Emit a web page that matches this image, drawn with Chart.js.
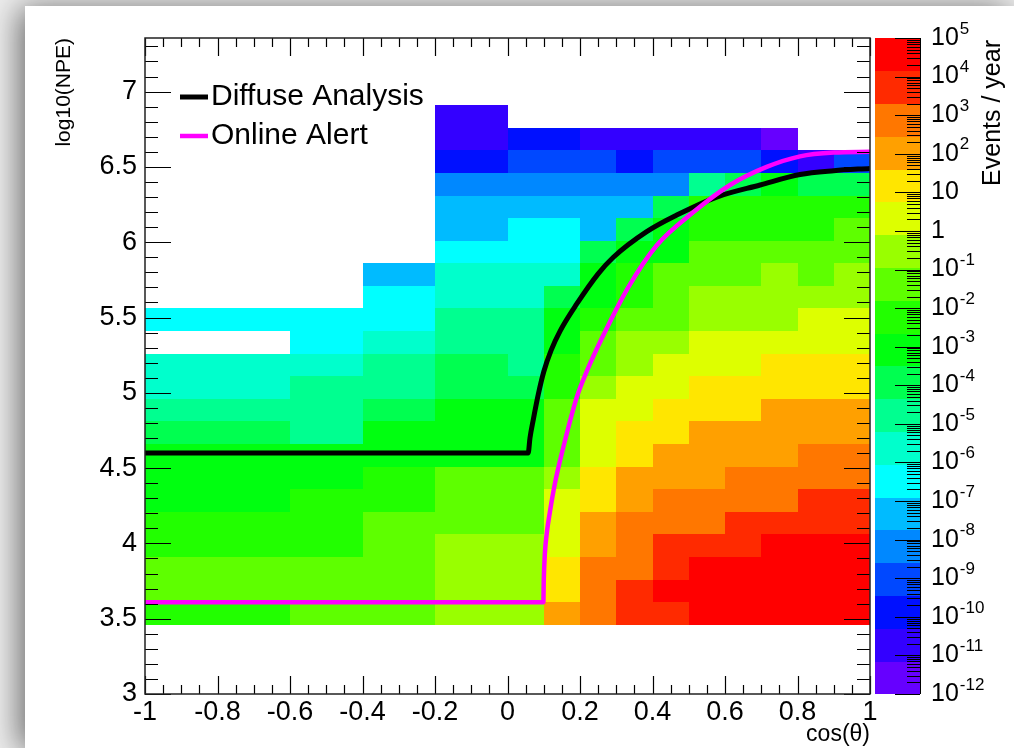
<!DOCTYPE html>
<html>
<head>
<meta charset="utf-8">
<title>log10(NPE) vs cos(θ)</title>
<script src="https://cdn.jsdelivr.net/npm/chart.js@4.4.1/dist/chart.umd.min.js"></script>
<style>
  html, body { margin: 0; padding: 0; }
  body { position: relative; width: 1014px; height: 748px; overflow: hidden; background: #eeeeee; }
  #panel { position: absolute; left: 25px; top: 6px; width: 989px; height: 742px; background: #fff;
           box-shadow: -6px 2px 30px rgba(0, 0, 0, 0.55); }
  #wrap { position: absolute; left: 0; top: 0; width: 1014px; height: 748px; }
</style>
</head>
<body>
<div id="panel"></div>
<div id="wrap"><canvas id="chart" width="1014" height="748"></canvas></div>
<script>
// Bin edges of the 2D histogram
const cosEdges = [-1, -0.9, -0.8, -0.7, -0.6, -0.5, -0.4, -0.3, -0.2, -0.1, 0,
                  0.1, 0.2, 0.3, 0.4, 0.5, 0.6, 0.7, 0.8, 0.9, 1];
const npeEdges = [3.46, 3.61, 3.76, 3.91, 4.06, 4.21, 4.36, 4.51, 4.66, 4.81, 4.96, 5.11,
                  5.26, 5.41, 5.56, 5.71, 5.86, 6.01, 6.16, 6.31, 6.46, 6.61, 6.76, 6.91];

// log10(events / year) per bin, one row per log10(NPE) bin, bottom row first.
// null = empty bin
const n = null;
const rateRows = [
  [-2.2, -2.2, -2.2, -2.2, -1.4, -1.4, -1.4, -1.4, -0.5, -0.5, -0.5, 2.0, 2.9, 3.7, 3.7, 4.6, 4.6, 4.6, 4.6, 4.6],
  [-1.4, -1.4, -1.4, -1.4, -1.4, -1.4, -1.4, -1.4, -0.5, -0.5, -0.5, 1.2, 2.9, 3.7, 4.6, 4.6, 4.6, 4.6, 4.6, 4.6],
  [-1.4, -1.4, -1.4, -1.4, -1.4, -1.4, -1.4, -1.4, -0.5, -0.5, -0.5, 1.2, 2.9, 2.9, 3.7, 4.6, 4.6, 4.6, 4.6, 4.6],
  [-2.2, -2.2, -2.2, -2.2, -2.2, -2.2, -1.4, -1.4, -0.5, -0.5, -0.5, 0.3, 2.0, 2.9, 3.7, 3.7, 3.7, 4.6, 4.6, 4.6],
  [-2.2, -2.2, -2.2, -2.2, -2.2, -2.2, -1.4, -1.4, -1.4, -1.4, -1.4, 0.3, 2.0, 2.9, 2.9, 2.9, 3.7, 3.7, 3.7, 3.7],
  [-3.1, -3.1, -3.1, -3.1, -2.2, -2.2, -2.2, -2.2, -1.4, -1.4, -1.4, 0.3, 1.2, 2.0, 2.9, 2.9, 2.9, 2.9, 3.7, 3.7],
  [-3.1, -3.1, -3.1, -3.1, -3.1, -3.1, -2.2, -2.2, -1.4, -1.4, -1.4, -0.5, 1.2, 2.0, 2.0, 2.0, 2.9, 2.9, 2.9, 2.9],
  [-3.1, -3.1, -3.1, -3.1, -3.1, -3.1, -3.1, -3.1, -3.1, -3.1, -3.1, -1.4, 0.3, 1.2, 2.0, 2.0, 2.0, 2.0, 2.9, 2.9],
  [-3.9, -3.9, -3.9, -3.9, -4.8, -4.8, -3.1, -3.1, -3.1, -3.1, -3.1, -1.4, 0.3, 1.2, 1.2, 2.0, 2.0, 2.0, 2.0, 2.0],
  [-4.8, -4.8, -4.8, -4.8, -4.8, -4.8, -3.9, -3.9, -3.1, -3.1, -3.1, -1.4, 0.3, 0.3, 1.2, 1.2, 1.2, 2.0, 2.0, 2.0],
  [-5.6, -5.6, -5.6, -5.6, -4.8, -4.8, -4.8, -4.8, -3.9, -3.9, -3.9, -2.2, -0.5, 0.3, 0.3, 1.2, 1.2, 1.2, 1.2, 1.2],
  [-5.6, -5.6, -5.6, -5.6, -5.6, -5.6, -4.8, -4.8, -3.9, -3.9, -4.8, -2.2, -1.4, -0.5, 0.3, 0.3, 0.3, 1.2, 1.2, 1.2],
  [n, n, n, n, -6.5, -6.5, -5.6, -5.6, -4.8, -4.8, -4.8, -3.1, -1.4, -0.5, -0.5, 0.3, 0.3, 0.3, 0.3, 0.3],
  [-6.5, -6.5, -6.5, -6.5, -6.5, -6.5, -6.5, -6.5, -4.8, -4.8, -4.8, -3.1, -2.2, -1.4, -1.4, -0.5, -0.5, -0.5, 0.3, 0.3],
  [n, n, n, n, n, n, -6.5, -6.5, -5.6, -5.6, -5.6, -3.9, -3.1, -2.2, -1.4, -0.5, -0.5, -0.5, -0.5, -0.5],
  [n, n, n, n, n, n, -7.3, -7.3, -5.6, -5.6, -5.6, -5.6, -3.1, -2.2, -1.4, -1.4, -1.4, -0.5, -1.4, -0.5],
  [n, n, n, n, n, n, n, n, -6.5, -6.5, -6.5, -6.5, -3.9, -3.1, -3.1, -1.4, -1.4, -1.4, -1.4, -1.4],
  [n, n, n, n, n, n, n, n, -7.3, -7.3, -6.5, -6.5, -7.3, -3.9, -3.1, -2.2, -2.2, -2.2, -2.2, -1.4],
  [n, n, n, n, n, n, n, n, -7.3, -7.3, -7.3, -7.3, -7.3, -7.3, -3.9, -2.2, -2.2, -2.2, -2.2, -2.2],
  [n, n, n, n, n, n, n, n, -8.2, -8.2, -8.2, -8.2, -8.2, -8.2, -8.2, -4.8, -3.9, -3.1, -3.9, -3.9],
  [n, n, n, n, n, n, n, n, -9.9, -9.9, -9.0, -9.0, -9.0, -9.9, -9.0, -9.0, -9.0, -9.9, -10.7, -9.0],
  [n, n, n, n, n, n, n, n, -10.7, -10.7, -9.9, -9.9, -10.7, -10.7, -10.7, -10.7, -10.7, -11.6, n, n],
  [n, n, n, n, n, n, n, n, -10.7, -10.7, n, n, n, n, n, n, n, n, n, n]
];

// Selection curves
const diffuseCos = [-1, 0.057, 0.062, 0.071, 0.085, 0.1, 0.12, 0.145, 0.191, 0.25, 0.292, 0.384, 0.467, 0.577, 0.697, 0.807, 0.9, 1];
const diffuseNpe = [4.6, 4.6, 4.7, 4.82, 4.99, 5.14, 5.28, 5.41, 5.59, 5.79, 5.9, 6.07, 6.18, 6.3, 6.38, 6.45, 6.475, 6.49];
const alertCos = [-1, 0.099, 0.1, 0.103, 0.109, 0.117, 0.131, 0.149, 0.191, 0.22, 0.26, 0.333, 0.412, 0.513, 0.614, 0.715, 0.807, 0.9, 1];
const alertNpe = [3.61, 3.61, 3.75, 3.93, 4.08, 4.21, 4.4, 4.59, 4.97, 5.15, 5.36, 5.7, 5.98, 6.2, 6.38, 6.5, 6.57, 6.595, 6.6];

// Colour axis: 10^-12 .. 10^5 events / year split into 20 contour levels
const rateMinExp = -12;
const rateMaxExp = 5;
const palette = ['#6600ff', '#3300ff', '#0010ff', '#0048ff', '#0088ff', '#00bbff', '#00ffff',
                 '#00ffcc', '#00ff90', '#00ff50', '#00ff10', '#22ff00', '#5eff00', '#99ff00',
                 '#ddff00', '#ffe600', '#ffa000', '#ff7700', '#ff2a00', '#ff0000'];
const bandWidth = (rateMaxExp - rateMinExp) / palette.length;

const FONT = "'Liberation Sans', Arial, Helvetica, sans-serif";

function rateColor(v) {
  let k = Math.floor((v - rateMinExp) / bandWidth);
  k = Math.max(0, Math.min(palette.length - 1, k));
  return palette[k];
}

function toPoints(xs, ys) {
  return xs.map((x, i) => ({ x, y: ys[i] }));
}

// Filled bins, drawn under the curves
const rateMap = {
  id: 'rateMap',
  beforeDatasetsDraw(chart) {
    const { ctx, scales: { x, y } } = chart;
    ctx.save();
    rateRows.forEach((row, j) => {
      const top = Math.round(y.getPixelForValue(npeEdges[j + 1]));
      const bottom = Math.round(y.getPixelForValue(npeEdges[j]));
      row.forEach((v, i) => {
        if (v === null) return;
        const left = Math.round(x.getPixelForValue(cosEdges[i]));
        const right = Math.round(x.getPixelForValue(cosEdges[i + 1]));
        ctx.fillStyle = rateColor(v);
        ctx.fillRect(left, top, right - left, bottom - top);
      });
    });
    ctx.restore();
  }
};

// Frame with inward ticks on all four sides, colour bar and legend
const decorations = {
  id: 'decorations',
  afterDraw(chart) {
    const { ctx, chartArea: a, scales: { x, y, yRate } } = chart;
    ctx.save();

    // ticks
    ctx.strokeStyle = '#000';
    ctx.lineWidth = 1.2;
    ctx.beginPath();
    for (let i = 0; i <= 40; i++) {
      const px = Math.round(x.getPixelForValue(-1 + i * 0.05)) + 0.5;
      const len = i % 4 === 0 ? 18 : 9;
      ctx.moveTo(px, a.bottom); ctx.lineTo(px, a.bottom - len);
      ctx.moveTo(px, a.top); ctx.lineTo(px, a.top + len);
    }
    for (let i = 0; i <= 43; i++) {
      const py = Math.round(y.getPixelForValue(3 + i * 0.1)) + 0.5;
      const len = i % 5 === 0 ? 26 : 13;
      ctx.moveTo(a.left, py); ctx.lineTo(a.left + len, py);
      ctx.moveTo(a.right, py); ctx.lineTo(a.right - len, py);
    }
    ctx.stroke();

    ctx.lineWidth = 1.5;
    ctx.strokeStyle = '#222';
    ctx.strokeRect(a.left, a.top, a.right - a.left, a.bottom - a.top);

    // colour bar
    const barLeft = a.right + 5;
    const barRight = a.right + 50;
    palette.forEach((c, k) => {
      const lo = rateMinExp + k * bandWidth;
      const y0 = yRate.getPixelForValue(Math.pow(10, lo + bandWidth));
      const y1 = yRate.getPixelForValue(Math.pow(10, lo));
      ctx.fillStyle = c;
      ctx.fillRect(barLeft, Math.floor(y0), barRight - barLeft, Math.ceil(y1) - Math.floor(y0));
    });
    ctx.strokeStyle = '#000';
    ctx.lineWidth = 1;
    ctx.beginPath();
    ctx.moveTo(barRight + 0.5, yRate.top); ctx.lineTo(barRight + 0.5, yRate.bottom);
    for (let e = rateMinExp; e <= rateMaxExp; e++) {
      const py = Math.round(yRate.getPixelForValue(Math.pow(10, e))) + 0.5;
      ctx.moveTo(barRight, py); ctx.lineTo(barRight - 25, py);
      if (e === rateMaxExp) break;
      for (let m = 2; m <= 9; m++) {
        const pm = Math.round(yRate.getPixelForValue(m * Math.pow(10, e))) + 0.5;
        ctx.moveTo(barRight, pm); ctx.lineTo(barRight - 13, pm);
      }
    }
    ctx.stroke();

    // colour bar labels
    ctx.fillStyle = '#000';
    ctx.textBaseline = 'middle';
    ctx.textAlign = 'left';
    for (let e = rateMinExp; e <= rateMaxExp; e++) {
      const py = yRate.getPixelForValue(Math.pow(10, e));
      const lx = barRight + 11;
      ctx.font = '25px ' + FONT;
      if (e === 0) { ctx.fillText('1', lx, py); continue; }
      ctx.fillText('10', lx, py);
      if (e === 1) continue;
      const w = ctx.measureText('10').width;
      ctx.font = '17px ' + FONT;
      ctx.fillText(String(e), lx + w + 1, py - 9);
    }

    // colour axis title
    ctx.save();
    ctx.translate(993, a.top + 2);
    ctx.rotate(-Math.PI / 2);
    ctx.font = '25px ' + FONT;
    ctx.textAlign = 'right';
    ctx.fillText('Events / year', 0, 0);
    ctx.restore();

    // legend
    const entries = [
      { label: 'Diffuse Analysis', color: '#000000', width: 5, dy: 59 },
      { label: 'Online Alert', color: '#ff00ff', width: 4.5, dy: 98 }
    ];
    ctx.font = '30px ' + FONT;
    ctx.textAlign = 'left';
    entries.forEach(en => {
      const ly = a.top + en.dy;
      ctx.strokeStyle = en.color;
      ctx.lineWidth = en.width;
      ctx.beginPath();
      ctx.moveTo(a.left + 35, ly);
      ctx.lineTo(a.left + 63, ly);
      ctx.stroke();
      ctx.fillStyle = '#000';
      ctx.fillText(en.label, a.left + 66, ly);
    });

    ctx.restore();
  }
};

Chart.defaults.font.family = FONT;
Chart.defaults.color = '#000';

new Chart(document.getElementById('chart'), {
  type: 'line',
  data: {
    datasets: [
      {
        label: 'Online Alert',
        data: toPoints(alertCos, alertNpe),
        borderColor: '#ff00ff',
        borderWidth: 4.5,
        pointRadius: 0,
        cubicInterpolationMode: 'monotone'
      },
      {
        label: 'Diffuse Analysis',
        data: toPoints(diffuseCos, diffuseNpe),
        borderColor: '#000000',
        borderWidth: 5,
        pointRadius: 0,
        cubicInterpolationMode: 'monotone'
      }
    ]
  },
  options: {
    responsive: false,
    devicePixelRatio: 1,
    animation: false,
    layout: { padding: { left: 25, top: 38, right: 144, bottom: 0 } },
    plugins: {
      legend: { display: false },
      tooltip: { enabled: false }
    },
    scales: {
      x: {
        type: 'linear',
        position: 'bottom',
        min: -1,
        max: 1,
        grid: { display: false, drawTicks: false },
        border: { display: false },
        ticks: {
          stepSize: 0.2,
          padding: 2,
          autoSkip: false,
          maxRotation: 0,
          font: { size: 27 },
          callback: v => String(Math.round(v * 10) / 10)
        },
        title: {
          display: true,
          text: 'cos(θ)',
          align: 'end',
          font: { size: 23 },
          padding: { top: 0, bottom: 0 }
        },
        afterFit: s => { s.height = 54; }
      },
      y: {
        type: 'linear',
        position: 'left',
        min: 3,
        max: 7.356,
        grid: { display: false, drawTicks: false },
        border: { display: false },
        ticks: {
          stepSize: 0.5,
          includeBounds: false,
          padding: 8,
          font: { size: 27 },
          callback: v => String(Math.round(v * 10) / 10)
        },
        title: {
          display: true,
          text: 'log10(NPE)',
          align: 'end',
          font: { size: 21 },
          padding: { top: 27, bottom: 0 }
        },
        afterFit: s => { s.width = 120; }
      },
      yRate: {
        type: 'logarithmic',
        axis: 'y',
        position: 'right',
        display: false,
        min: Math.pow(10, rateMinExp),
        max: Math.pow(10, rateMaxExp)
      }
    }
  },
  plugins: [rateMap, decorations]
});
</script>
</body>
</html>
